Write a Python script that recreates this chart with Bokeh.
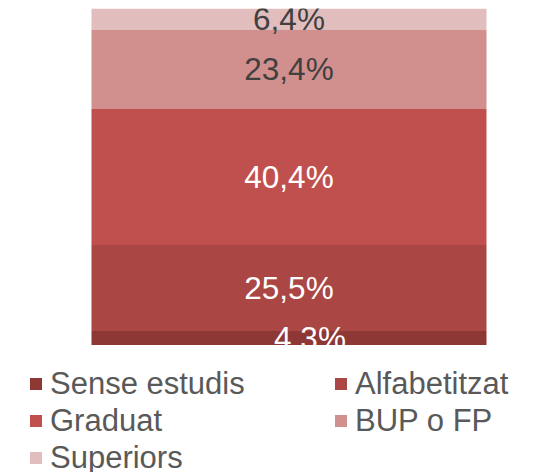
from bokeh.plotting import figure
from bokeh.models import Range1d, ColumnDataSource, Legend, LegendItem
from bokeh.layouts import column
from bokeh.core.properties import value
from bokeh.embed import file_html
from bokeh.resources import INLINE

# ---- data ----
categories = ["Sense estudis", "Alfabetitzat", "Graduat", "BUP o FP", "Superiors"]
shares = [4.3, 25.5, 40.4, 23.4, 6.4]
share_labels = ["4,3%", "25,5%", "40,4%", "23,4%", "6,4%"]
colors = ["#8E3836", "#AA4643", "#C0504D", "#D1908E", "#E1BEBD"]
label_colors = ["#FFFFFF", "#FFFFFF", "#FFFFFF", "#404040", "#404040"]
label_dx = [21, 0, 0, 0, 0]

bottoms, tops, mids = [], [], []
acc = 0.0
for s in shares:
    bottoms.append(acc)
    tops.append(acc + s)
    mids.append(acc + s / 2)
    acc += s

src = ColumnDataSource(dict(x=[0] * len(shares), bottom=bottoms, top=tops, mid=mids,
                            color=colors, label=share_labels, lc=label_colors, dx=label_dx))

FONT = "Liberation Sans"

p = figure(frame_width=515, frame_height=337,
           x_range=Range1d(-0.7101, 0.5937), y_range=Range1d(0, 100),
           output_backend="svg", toolbar_location=None,
           x_axis_location=None, y_axis_location=None,
           min_border=0, min_border_left=8, min_border_top=8,
           outline_line_color=None)
p.grid.visible = False
p.vbar(x="x", bottom="bottom", top="top", width=1.0, fill_color="color",
       line_color=None, source=src)
p.text(x="x", y="mid", text="label", text_color="lc", x_offset="dx",
       text_align="center", text_baseline="middle",
       text_font=value(FONT), text_font_size="31.5px", source=src)

q = figure(frame_width=515, frame_height=127, x_range=Range1d(0, 1), y_range=Range1d(0, 1),
           output_backend="svg", toolbar_location=None,
           x_axis_location=None, y_axis_location=None,
           min_border=0, min_border_left=8,
           outline_line_color=None)
q.grid.visible = False
rs = {}
for c, col in zip(categories, colors):
    # hidden swatch renderers (outside the visible range), used only for legend glyphs
    rs[c] = q.rect(x=[-5], y=[-5], width=1, height=1, fill_color=col, line_color=None)

# legend fills column by column: first column Sense/Graduat/Superiors, second Alfabetitzat/BUP
legend_order = [0, 2, 4, 1, 3]
items = [LegendItem(label=categories[i], renderers=[rs[categories[i]]]) for i in legend_order]
leg = Legend(items=items, ncols=2, location="top_left",
             margin=10, padding=10, spacing=0,
             glyph_width=15, glyph_height=15, label_standoff=7,
             label_height=37, label_width=283,
             label_text_font=FONT, label_text_font_size="31px",
             label_text_color="#595959",
             background_fill_alpha=0, border_line_alpha=0)
q.add_layout(leg)

layout = column(p, q, spacing=0)
open("out.html", "w").write(file_html(layout, INLINE))
